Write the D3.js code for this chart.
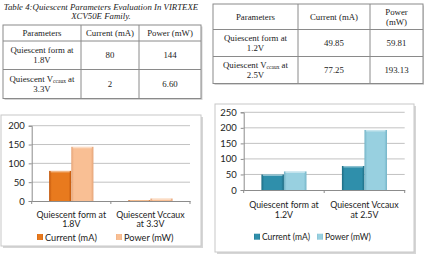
<!DOCTYPE html>
<html>
<head>
<meta charset="utf-8">
<script src="https://cdn.jsdelivr.net/npm/d3@7"></script>
<style>
  html, body { margin: 0; padding: 0; background: #fff; }
  svg { display: block; }
</style>
</head>
<body>
<svg id="page" width="424" height="254"></svg>
<script>
// ---- data: left table / chart (XCV50E) ----
const leftCategories = ['Quiescent form at 1.8V', 'Quiescent Vccaux at 3.3V'];
const leftCurrent = [80, 2];
const leftPower = [144, 6.60];
const leftPowerText = ['144', '6.60'];
const leftTicks = [0, 50, 100, 150, 200];

// ---- data: right table / chart ----
const rightCategories = ['Quiescent form at 1.2V', 'Quiescent Vccaux at 2.5V'];
const rightCurrent = [49.85, 77.25];
const rightPower = [59.81, 193.13];
const rightPowerText = ['59.81', '193.13'];
const rightTicks = [0, 50, 100, 150, 200, 250];

const seriesNames = ['Current (mA)', 'Power (mW)'];
// axis label wrapping, like Excel does it
const axisLines = [['Quiescent form at', '{v}'], ['Quiescent Vccaux', 'at {v}']];

const SERIF = '"Liberation Serif", "DejaVu Serif", serif';
const SANS = 'Lato, "Open Sans", sans-serif';

const svg = d3.select('#page');
const defs = svg.append('defs');

// bevel-ish gradients for the bars
function barGradient(id, edge, mid) {
  const g = defs.append('linearGradient').attr('id', id).attr('x1', 0).attr('x2', 1).attr('y1', 0).attr('y2', 0);
  g.append('stop').attr('offset', '0%').attr('stop-color', edge);
  g.append('stop').attr('offset', '12%').attr('stop-color', mid);
  g.append('stop').attr('offset', '88%').attr('stop-color', mid);
  g.append('stop').attr('offset', '100%').attr('stop-color', edge);
}
barGradient('gOrange', '#c0560c', '#e87a1e');
barGradient('gPeach', '#e5a478', '#f9bf94');
barGradient('gTeal', '#1d6b82', '#2f8fab');
barGradient('gSky', '#74b4c7', '#98d0e0');

const voltOf = s => s.split(' at ')[1];

// ---- tables ----
function drawTable(cfg) {
  const g = svg.append('g');
  const { cols, rows } = cfg;
  g.append('rect').attr('x', cols[0] + 1.5).attr('y', rows[0] + 1.5)
    .attr('width', cols[3] - cols[0]).attr('height', rows[3] - rows[0]).attr('fill', '#d4d4d4');
  g.append('rect').attr('x', cols[0]).attr('y', rows[0])
    .attr('width', cols[3] - cols[0]).attr('height', rows[3] - rows[0])
    .attr('fill', '#fff').attr('stroke', '#8a8a8a').attr('stroke-width', 1);
  rows.slice(1, 3).forEach(y => g.append('line').attr('x1', cols[0]).attr('x2', cols[3])
    .attr('y1', y).attr('y2', y).attr('stroke', '#8a8a8a'));
  cols.slice(1, 3).forEach(x => g.append('line').attr('x1', x).attr('x2', x)
    .attr('y1', rows[0]).attr('y2', rows[3]).attr('stroke', '#8a8a8a'));

  const cx = i => (cols[i] + cols[i + 1]) / 2;
  const cy = j => (rows[j] + rows[j + 1]) / 2;
  const txt = (x, y, s) => g.append('text').attr('font-family', SERIF).attr('fill', '#222')
    .attr('x', x).attr('y', y)
    .attr('text-anchor', 'middle').attr('dominant-baseline', 'central').attr('font-size', 8.8).text(s);

  txt(cx(0), cy(0), 'Parameters');
  txt(cx(1), cy(0), 'Current (mA)');
  if (cfg.powerTwoLines) {
    txt(cx(2), cy(0) - 5, 'Power');
    txt(cx(2), cy(0) + 5, '(mW)');
  } else {
    txt(cx(2), cy(0), 'Power (mW)');
  }
  cfg.categories.forEach((c, j) => {
    const y = cy(j + 1);
    const v = voltOf(c);
    if (j === 0) {
      txt(cx(0), y - 5, 'Quiescent form at');
    } else {
      const t = txt(cx(0), y - 5, null);
      t.append('tspan').text('Quiescent V');
      t.append('tspan').attr('font-size', 5.5).attr('dy', 2).text('ccaux');
      t.append('tspan').attr('dy', -2).text(' at');
    }
    txt(cx(0), y + 5, v);
    txt(cx(1), y, String(cfg.current[j]));
    txt(cx(2), y, cfg.powerText[j]);
  });
}

// caption of table 4
[['Table 4:Quiescent Parameters Evaluation In VIRTEXE', 7], ['XCV50E Family.', 15.5]].forEach(([s, yy]) =>
  svg.append('text').attr('font-family', SERIF).attr('fill', '#222').attr('x', 101).attr('y', yy)
    .attr('text-anchor', 'middle').attr('dominant-baseline', 'central')
    .attr('font-size', 8.8).attr('font-style', 'italic').text(s));

drawTable({ cols: [3, 81, 139, 201], rows: [25, 41, 69.5, 98.5],
  categories: leftCategories, current: leftCurrent, powerText: leftPowerText, powerTwoLines: false });
drawTable({ cols: [213, 298, 370, 423], rows: [4, 29.5, 56.5, 83.5],
  categories: rightCategories, current: rightCurrent, powerText: rightPowerText, powerTwoLines: true });

// ---- charts ----
function drawChart(cfg) {
  const g = svg.append('g');
  const b = cfg.box;
  g.append('rect').attr('x', b.x + 2).attr('y', b.y + 2).attr('width', b.w).attr('height', b.h).attr('fill', '#d6d6d6');
  g.append('rect').attr('x', b.x).attr('y', b.y).attr('width', b.w).attr('height', b.h)
    .attr('fill', '#fff').attr('stroke', '#c8c8c8');

  const y = d3.scaleLinear().domain([0, d3.max(cfg.ticks)]).range([cfg.y0, cfg.yTop]);
  const x = d3.scaleBand().domain(cfg.categories).range([cfg.x0, cfg.x1]).paddingInner(0.44).paddingOuter(0.22);
  const xs = d3.scaleBand().domain(seriesNames).range([0, x.bandwidth()]);

  // grid lines
  g.selectAll('.grid').data(cfg.ticks.slice(1)).join('line')
    .attr('x1', cfg.x0).attr('x2', cfg.x1).attr('y1', d => y(d)).attr('y2', d => y(d))
    .attr('stroke', '#b3b3b3').attr('stroke-width', 0.8);

  // value axis
  const ya = d3.axisLeft(y).tickValues(cfg.ticks).tickSize(3).tickPadding(4);
  const yg = g.append('g').attr('transform', `translate(${cfg.x0},0)`).call(ya);
  yg.select('.domain').attr('stroke', '#8c8c8c');
  yg.selectAll('.tick line').attr('stroke', '#8c8c8c');
  yg.selectAll('.tick text').attr('font-family', SANS).attr('font-size', 9.5).attr('fill', '#222');

  // bars
  const rows = cfg.categories.map((c, i) => ({ c, vals: [cfg.current[i], cfg.power[i]] }));
  const grp = g.selectAll('.cat').data(rows).join('g').attr('transform', d => `translate(${x(d.c)},0)`);
  grp.selectAll('rect').data(d => d.vals.map((v, k) => ({ v, k }))).join('rect')
    .attr('x', d => xs(seriesNames[d.k])).attr('width', xs.bandwidth())
    .attr('y', d => y(d.v)).attr('height', d => cfg.y0 - y(d.v))
    .attr('fill', d => `url(#${cfg.grads[d.k]})`);
  grp.selectAll('.hl').data(d => d.vals.map((v, k) => ({ v, k }))).join('rect').attr('class', 'hl')
    .attr('x', d => xs(seriesNames[d.k]) + 1.5).attr('width', xs.bandwidth() - 3)
    .attr('y', d => y(d.v)).attr('height', d => Math.min(1.5, cfg.y0 - y(d.v)))
    .attr('fill', '#fff').attr('opacity', 0.45);

  // category axis
  const xa = d3.axisBottom(x).tickSize(0).tickFormat('');
  const xg = g.append('g').attr('transform', `translate(0,${cfg.y0})`).call(xa);
  xg.select('.domain').attr('stroke', '#8c8c8c');
  const step = x.step();
  [0, 1, 2].forEach(i => g.append('line')
    .attr('x1', cfg.x0 + i * step).attr('x2', cfg.x0 + i * step)
    .attr('y1', cfg.y0).attr('y2', cfg.y0 + 3).attr('stroke', '#8c8c8c'));
  cfg.categories.forEach((c, i) => {
    const v = voltOf(c);
    axisLines[i].forEach((ln, k) => {
      g.append('text').attr('font-family', SANS).attr('fill', '#222')
        .attr('x', x(c) + x.bandwidth() / 2)
        .attr('y', cfg.labelY + k * cfg.lineH).attr('text-anchor', 'middle')
        .attr('dominant-baseline', 'central').attr('font-size', 8.8)
        .text(ln.replace('{v}', v));
    });
  });

  // legend
  seriesNames.forEach((s, k) => {
    const lx = cfg.legendX[k];
    g.append('rect').attr('x', lx).attr('y', cfg.legendY - 3).attr('width', 6).attr('height', 6)
      .attr('fill', `url(#${cfg.grads[k]})`);
    g.append('text').attr('font-family', SANS).attr('fill', '#222')
      .attr('x', lx + 8).attr('y', cfg.legendY)
      .attr('dominant-baseline', 'central').attr('font-size', cfg.legendSize).text(s);
  });
}

drawChart({ box: { x: 1, y: 115, w: 200, h: 131 }, x0: 31.7, x1: 190, y0: 201, yTop: 125.7,
  ticks: leftTicks, categories: leftCategories, current: leftCurrent, power: leftPower,
  grads: ['gOrange', 'gPeach'], labelY: 214, lineH: 9.5, legendY: 237, legendX: [37, 116], legendSize: 9.2 });
drawChart({ box: { x: 215, y: 104, w: 199, h: 148 }, x0: 243.7, x1: 404.7, y0: 190, yTop: 112.3,
  ticks: rightTicks, categories: rightCategories, current: rightCurrent, power: rightPower,
  grads: ['gTeal', 'gSky'], labelY: 204, lineH: 10, legendY: 236.7, legendX: [254, 317], legendSize: 8.5 });
</script>
</body>
</html>
